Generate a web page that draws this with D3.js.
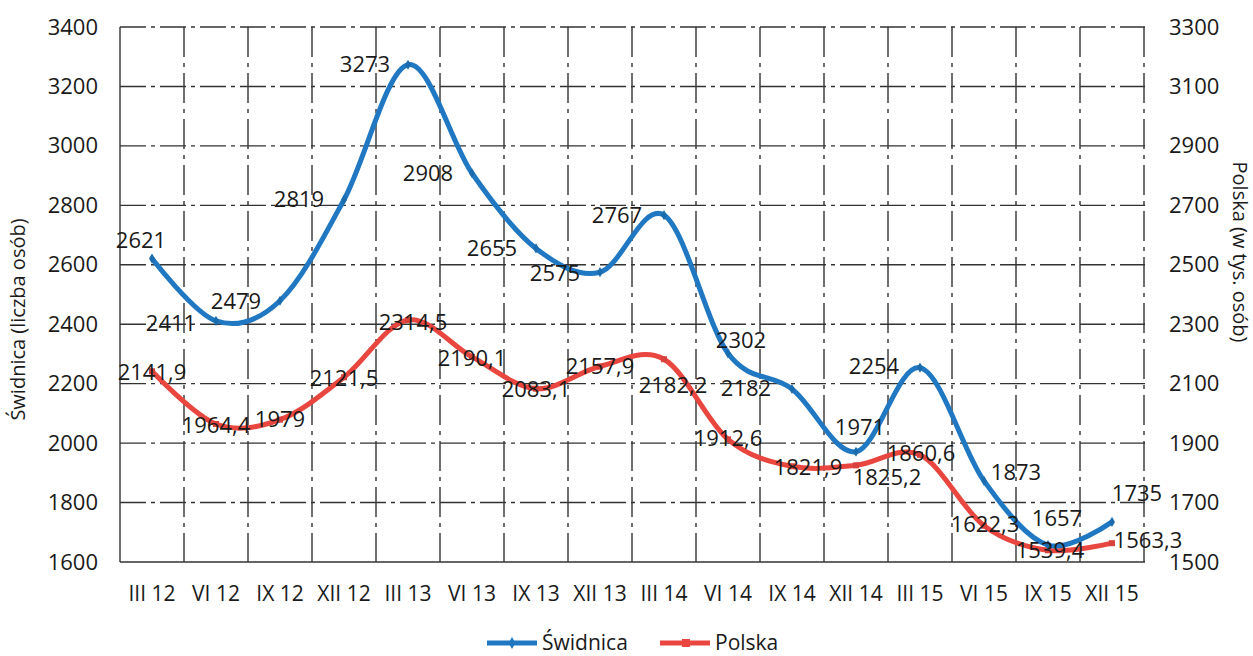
<!DOCTYPE html>
<html>
<head>
<meta charset="utf-8">
<script src="https://cdn.jsdelivr.net/npm/d3@7"></script>
<style>
  body { margin: 0; background: #fff; }
  text { font-family: "Open Sans", sans-serif; fill: #1a1a1a; }
</style>
</head>
<body>
<div id="chart"></div>
<script>
// chart data
const quarters = ['III 12', 'VI 12', 'IX 12', 'XII 12', 'III 13', 'VI 13', 'IX 13', 'XII 13',
                  'III 14', 'VI 14', 'IX 14', 'XII 14', 'III 15', 'VI 15', 'IX 15', 'XII 15'];
const swidnica = [2621, 2411, 2479, 2819, 3273, 2908, 2655, 2575, 2767, 2302, 2182, 1971, 2254, 1873, 1657, 1735];
const polska = [2141.9, 1964.4, 1979, 2121.5, 2314.5, 2190.1, 2083.1, 2157.9, 2182.2, 1912.6, 1821.9, 1825.2, 1860.6, 1622.3, 1539.4, 1563.3];
const leftTicks = [1600, 1800, 2000, 2200, 2400, 2600, 2800, 3000, 3200, 3400];
const rightTicks = [1500, 1700, 1900, 2100, 2300, 2500, 2700, 2900, 3100, 3300];

// label offsets (as placed on the original)
const swLabelOff = [[-11, -18], [-45, 2], [-44, 1], [-45, 0], [-43, 0], [-44, 0], [-44, 0], [-45, 1],
                    [-47, 0], [13, -13], [-46, -1], [4, -24], [-46, -1], [32, -9], [9, -27], [25, -29]];
const plLabelOff = [[0, 1], [0, 1], [0, 0], [0, 1], [5, 2], [0, 1], [0, 1], [0, 0],
                    [9, 26], [0, -1], [16, 1], [31, 12], [1, -2], [1, -1], [2, 0], [36, -3]];

const width = 1253, height = 656;
const plot = { left: 120, right: 1144, top: 27, bottom: 562 };
const blue = '#1f78c1', red = '#e8463f';

const svg = d3.select('#chart').append('svg')
    .attr('width', width)
    .attr('height', height);

const x = d3.scaleBand().domain(quarters).range([plot.left, plot.right]).padding(0);
const yL = d3.scaleLinear().domain([1600, 3400]).range([plot.bottom, plot.top]);
const yR = d3.scaleLinear().domain([1500, 3300]).range([plot.bottom, plot.top]);

// grid
const grid = svg.append('g').attr('stroke', '#333').attr('stroke-width', 1.4).attr('fill', 'none');
grid.selectAll('.hg').data(leftTicks).enter().append('line')
    .attr('x1', plot.left).attr('x2', plot.right + 1)
    .attr('y1', d => yL(d)).attr('y2', d => yL(d))
    .attr('stroke-dasharray', d => d === 1600 ? null : '26,5,4,5');
const vx = quarters.map(q => x(q)).concat([plot.right]);
grid.selectAll('.vg').data(vx).enter().append('line')
    .attr('x1', d => d).attr('x2', d => d)
    .attr('y1', plot.top).attr('y2', plot.bottom)
    .attr('stroke-dasharray', (d, i) => i === 0 ? null : '30,6,4,6');

// axes labels
const styleTicks = (g, size) => g.selectAll('text')
    .style('font-size', size).style('font-family', '"Open Sans", sans-serif').attr('fill', '#1a1a1a');

const axL = d3.axisLeft(yL).tickValues(leftTicks).tickFormat(d3.format('d')).tickSize(0).tickPadding(22);
svg.append('g').attr('transform', `translate(${plot.left},0)`).call(axL)
    .call(g => g.select('.domain').remove())
    .call(g => styleTicks(g, '22px'));

const axR = d3.axisRight(yR).tickValues(rightTicks).tickFormat(d3.format('d')).tickSize(0).tickPadding(25);
svg.append('g').attr('transform', `translate(${plot.right},0)`).call(axR)
    .call(g => g.select('.domain').remove())
    .call(g => styleTicks(g, '22px'));

const axB = d3.axisBottom(x).tickSize(0).tickPadding(24);
svg.append('g').attr('transform', `translate(0,${plot.bottom})`).call(axB)
    .call(g => g.select('.domain').remove())
    .call(g => styleTicks(g, '21px'));

// axis titles
svg.append('text')
    .attr('transform', `translate(25,${(plot.top + plot.bottom) / 2 + 25}) rotate(-90)`)
    .attr('text-anchor', 'middle')
    .style('font-size', '20px')
    .text('Świdnica (liczba osób)');
svg.append('text')
    .attr('transform', `translate(1233,252) rotate(90)`)
    .attr('text-anchor', 'middle')
    .style('font-size', '20px')
    .text('Polska  (w tys. osób)');

// lines
const cx = q => x(q) + x.bandwidth() / 2;
const lineL = d3.line().x((d, i) => cx(quarters[i])).y(d => yL(d)).curve(d3.curveCatmullRom.alpha(0));
const lineR = d3.line().x((d, i) => cx(quarters[i])).y(d => yR(d)).curve(d3.curveCatmullRom.alpha(0));

svg.append('path').datum(polska)
    .attr('d', lineR)
    .attr('fill', 'none').attr('stroke', red).attr('stroke-width', 5).attr('stroke-linejoin', 'round');
svg.append('path').datum(swidnica)
    .attr('d', lineL)
    .attr('fill', 'none').attr('stroke', blue).attr('stroke-width', 5).attr('stroke-linejoin', 'round');

// markers
svg.append('g').selectAll('rect').data(polska).enter().append('rect')
    .attr('x', (d, i) => cx(quarters[i]) - 3).attr('y', d => yR(d) - 3)
    .attr('width', 6).attr('height', 6).attr('fill', '#d9423c');
svg.append('g').selectAll('path').data(swidnica).enter().append('path')
    .attr('d', d3.symbol().type(d3.symbolDiamond).size(30))
    .attr('transform', (d, i) => `translate(${cx(quarters[i])},${yL(d)})`)
    .attr('fill', '#1a6cae');

// data labels
const fmt = v => String(v).replace('.', ',');
svg.append('g').selectAll('text').data(swidnica).enter().append('text')
    .attr('x', (d, i) => cx(quarters[i]) + swLabelOff[i][0])
    .attr('y', (d, i) => yL(d) + swLabelOff[i][1])
    .attr('text-anchor', 'middle').attr('dy', '0.35em')
    .style('font-size', '22px')
    .text(d => fmt(d));
svg.append('g').selectAll('text').data(polska).enter().append('text')
    .attr('x', (d, i) => cx(quarters[i]) + plLabelOff[i][0])
    .attr('y', (d, i) => yR(d) + plLabelOff[i][1])
    .attr('text-anchor', 'middle').attr('dy', '0.35em')
    .style('font-size', '22px')
    .text(d => fmt(d));

// legend
const lg = svg.append('g').attr('transform', 'translate(0,643)');
const items = [{ name: 'Świdnica', color: blue, x: 487 }, { name: 'Polska', color: red, x: 660 }];
items.forEach(it => {
    lg.append('line').attr('x1', it.x).attr('x2', it.x + 50).attr('y1', 0).attr('y2', 0)
        .attr('stroke', it.color).attr('stroke-width', 5);
    if (it.name === 'Polska') {
        lg.append('rect').attr('x', it.x + 22).attr('y', -4).attr('width', 8).attr('height', 8).attr('fill', it.color);
    } else {
        lg.append('path').attr('d', d3.symbol().type(d3.symbolDiamond).size(40)())
            .attr('transform', `translate(${it.x + 25},0)`).attr('fill', it.color);
    }
    lg.append('text').attr('x', it.x + 55).attr('y', 0).attr('dy', '0.35em')
        .style('font-size', '21px').text(it.name);
});
</script>
</body>
</html>
